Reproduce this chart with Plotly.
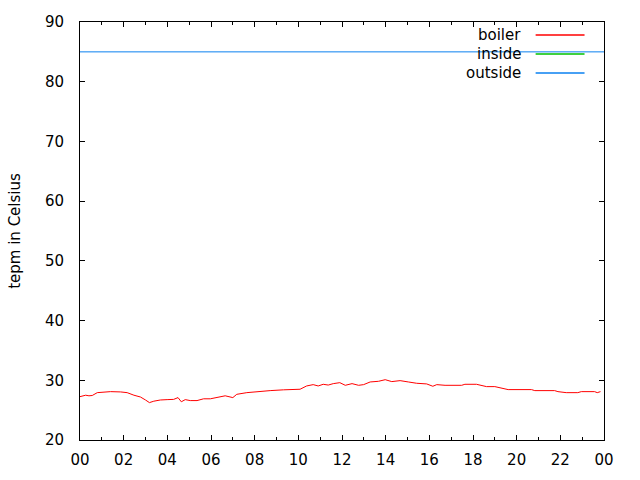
import plotly.graph_objects as go

# Boiler (red) readings: hour of day, temperature
boiler_hours = [0.0, 0.26, 0.41, 0.56, 0.79, 1.4, 1.86, 2.16, 2.47, 2.77, 3.0, 3.18, 3.38, 3.68,
                3.99, 4.29, 4.49, 4.64, 4.82, 5.05, 5.36, 5.66, 5.97, 6.27, 6.65, 7.0, 7.18,
                7.64, 8.1, 8.71, 9.32, 10.08, 10.38, 10.68, 10.91, 11.14, 11.37, 11.6, 11.9,
                12.15, 12.46, 12.76, 12.99, 13.29, 13.67, 13.98, 14.28, 14.66, 15.04, 15.42,
                15.88, 16.16, 16.34, 16.72, 17.48, 17.63, 18.16, 18.62, 19.0, 19.3, 19.61,
                20.68, 20.83, 21.74, 21.89, 22.27, 22.8, 22.96, 23.57, 23.69, 23.84]
boiler_temps = [27.26, 27.5, 27.4, 27.45, 27.93, 28.1, 28.05, 27.93, 27.5, 27.2, 26.7, 26.26,
                26.5, 26.7, 26.76, 26.8, 27.1, 26.4, 26.76, 26.6, 26.6, 26.9, 26.9, 27.15, 27.4,
                27.1, 27.65, 27.93, 28.1, 28.27, 28.4, 28.5, 29.05, 29.27, 29.05, 29.33, 29.2,
                29.44, 29.6, 29.16, 29.44, 29.16, 29.27, 29.72, 29.83, 30.1, 29.78, 29.94, 29.72,
                29.5, 29.39, 29.0, 29.27, 29.16, 29.16, 29.33, 29.33, 28.94, 28.94, 28.66, 28.44,
                28.44, 28.27, 28.27, 28.1, 27.93, 27.93, 28.1, 28.1, 27.93, 28.1]

# Outside (blue) readings
outside_hours = [0.0, 24.0]
outside_temps = [85.0, 85.0]

# Inside (green) readings - no visible data
inside_hours = []
inside_temps = []

tick_vals = list(range(0, 25, 2))
tick_text = ["00", "02", "04", "06", "08", "10", "12", "14", "16", "18", "20", "22", "00"]

series = [("boiler", boiler_hours, boiler_temps, "#ff0000"),
          ("inside", inside_hours, inside_temps, "#00c000"),
          ("outside", outside_hours, outside_temps, "#0a80f0")]

fig = go.Figure()
for name, xs, ys, col in series:
    fig.add_trace(go.Scatter(x=xs, y=ys, mode="lines", name=name,
                             line=dict(color=col, width=1), showlegend=False))

font = dict(family="DejaVu Sans", size=15, color="#000000")

# gnuplot-style key: right-aligned text with sample line on the right
for i, (name, xs, ys, col) in enumerate(series):
    yp = 1 - (13 + 19 * i) / 418.0
    fig.add_annotation(xref="paper", yref="paper", x=(523 - 79.5) / 525.0, y=yp,
                       text=name, showarrow=False, xanchor="right", yanchor="middle",
                       font=font)
    fig.add_shape(type="line", xref="paper", yref="paper",
                  x0=(536 - 79.5) / 525.0, x1=(585 - 79.5) / 525.0, y0=yp, y1=yp,
                  line=dict(color=col, width=1.5))

fig.update_layout(
    width=640, height=480,
    margin=dict(l=79.5, r=35.5, t=22, b=40),
    paper_bgcolor="white", plot_bgcolor="white",
    font=font, showlegend=False,
)
fig.update_xaxes(range=[0, 24], tickvals=tick_vals, ticktext=tick_text,
                 showgrid=False, zeroline=False, showline=True, linecolor="black",
                 linewidth=1, mirror="ticks", ticks="inside", ticklen=5, tickcolor="black",
                 ticklabelstandoff=6,
                 minor=dict(ticks="inside", dtick=1, ticklen=3, tickcolor="black", showgrid=False))
fig.update_yaxes(range=[20, 90], dtick=10, tick0=20,
                 showgrid=False, zeroline=False, showline=True, linecolor="black",
                 linewidth=1, mirror="ticks", ticks="inside", ticklen=5, tickcolor="black",
                 ticklabelstandoff=12,
                 title=dict(text="tepm in Celsius", standoff=20, font=font))

fig.write_html("out.html")
